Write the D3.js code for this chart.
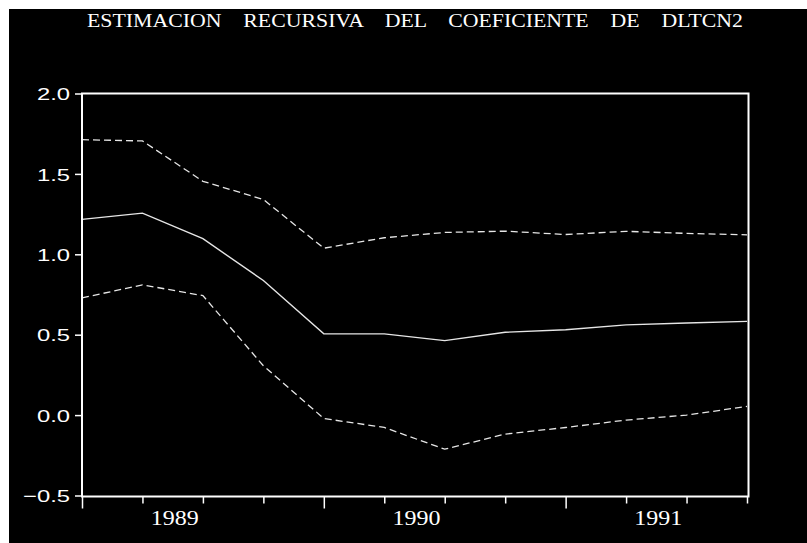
<!DOCTYPE html>
<html>
<head>
<meta charset="utf-8">
<script src="https://cdn.jsdelivr.net/npm/d3@7"></script>
<style>
  html, body { margin: 0; padding: 0; background: #ffffff; }
  svg { display: block; }
</style>
</head>
<body>
<svg id="chart" width="807" height="543"></svg>
<script>
// ---- data ----
const title = "ESTIMACION    RECURSIVA    DEL    COEFICIENTE    DE    DLTCN2";
const quarters = ["1989Q1","1989Q2","1989Q3","1989Q4",
                  "1990Q1","1990Q2","1990Q3","1990Q4",
                  "1991Q1","1991Q2","1991Q3","1991Q4"];
const coef  = [1.217, 1.256, 1.097, 0.837, 0.505, 0.505, 0.463, 0.515, 0.531, 0.561, 0.573, 0.583];
const upper = [1.713, 1.705, 1.454, 1.341, 1.038, 1.103, 1.136, 1.144, 1.123, 1.143, 1.130, 1.121];
const lower = [0.729, 0.810, 0.743, 0.307, -0.021, -0.077, -0.212, -0.118, -0.077, -0.031, 0.000, 0.054];
const years = ["1989", "1990", "1991"];
const yTicks = [-0.5, 0.0, 0.5, 1.0, 1.5, 2.0];

// ---- layout ----
const svg = d3.select("#chart");
svg.append("rect").attr("x", 9).attr("y", 9).attr("width", 798).attr("height", 534).attr("fill", "#000");

const x = d3.scaleLinear().domain([0, quarters.length - 1]).range([82, 747]);
const y = d3.scaleLinear().domain([-0.5, 2.0]).range([495.5, 93.5]);

// title
const t = svg.append("text")
  .attr("x", 87).attr("y", 27)
  .attr("fill", "#fff")
  .style("white-space", "pre")
  .attr("font-family", "'Liberation Serif', 'Times New Roman', serif")
  .attr("font-size", 19.5)
  .text(title);
t.attr("textLength", 656).attr("lengthAdjust", "spacingAndGlyphs");

// left axis
const gy = svg.append("g").attr("transform", "translate(82,0)")
  .call(d3.axisLeft(y).tickValues(yTicks).tickSize(7).tickPadding(5).tickFormat(d3.format(".1f")));
gy.select(".domain").remove();
gy.selectAll(".tick line").attr("stroke", "#fff").attr("stroke-width", 1.5);
gy.selectAll(".tick text")
  .attr("fill", "#fff")
  .attr("font-family", "'Liberation Sans', Arial, sans-serif")
  .attr("font-size", 17)
  .attr("dy", "0.36em")
  .each(function() {
    const w = this.getComputedTextLength();
    d3.select(this).attr("textLength", w * 1.4).attr("lengthAdjust", "spacingAndGlyphs");
  });

// bottom axis (ticks at every quarter, longer at first quarter of each year)
const gx = svg.append("g").attr("transform", "translate(0," + (y(-0.5) + 1) + ")")
  .call(d3.axisBottom(x).tickValues(d3.range(quarters.length)).tickSize(6).tickFormat(""));
gx.select(".domain").remove();
gx.selectAll(".tick line")
  .attr("stroke", "#fff").attr("stroke-width", 1.5)
  .attr("y2", d => (d % 4 === 0 ? 12 : 7));

// year labels centred on each year's four quarters
svg.append("g").selectAll("text").data(years).join("text")
  .attr("x", (d, i) => x(i * 4 + 1.5) + 2)
  .attr("y", 525)
  .attr("text-anchor", "middle")
  .attr("fill", "#fff")
  .attr("font-family", "'Liberation Serif', 'Times New Roman', serif")
  .attr("font-size", 20)
  .text(d => d)
  .each(function() {
    const w = this.getComputedTextLength();
    d3.select(this).attr("textLength", w * 1.2).attr("lengthAdjust", "spacingAndGlyphs");
  });

// series
const line = d3.line().x((d, i) => x(i)).y(d => y(d));
svg.append("path").datum(upper).attr("d", line)
  .attr("fill", "none").attr("stroke", "#e6e6e6").attr("stroke-width", 1.3).attr("stroke-dasharray", "7,4");
svg.append("path").datum(lower).attr("d", line)
  .attr("fill", "none").attr("stroke", "#e6e6e6").attr("stroke-width", 1.3).attr("stroke-dasharray", "7,4");
svg.append("path").datum(coef).attr("d", line)
  .attr("fill", "none").attr("stroke", "#e6e6e6").attr("stroke-width", 1.4);

// frame
svg.append("rect")
  .attr("x", x(0)).attr("y", y(2.0))
  .attr("width", x(quarters.length - 1) + 1.5 - x(0))
  .attr("height", y(-0.5) + 1 - y(2.0))
  .attr("fill", "none").attr("stroke", "#fff").attr("stroke-width", 2);
</script>
</body>
</html>
